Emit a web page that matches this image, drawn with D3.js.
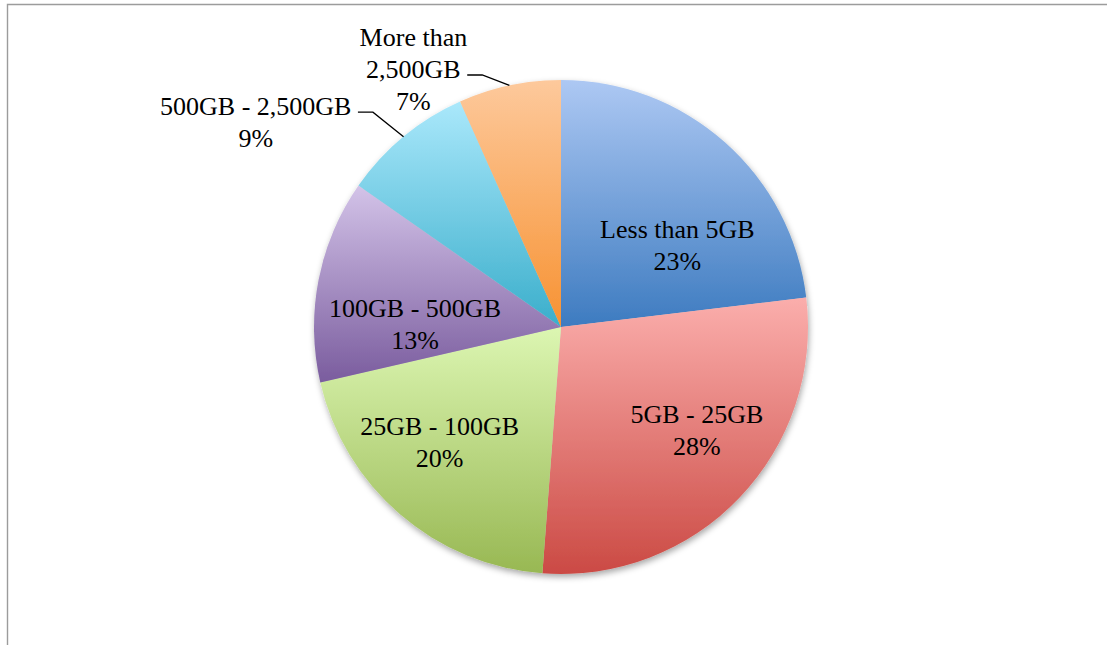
<!DOCTYPE html>
<html>
<head>
<meta charset="utf-8">
<script src="https://cdn.jsdelivr.net/npm/d3@7"></script>
<style>
html, body { margin: 0; padding: 0; background: #fff; }
svg { display: block; }
text { font-family: "Liberation Serif", "Times New Roman", serif; font-size: 26px; fill: #000; }
</style>
</head>
<body>
<svg width="1107" height="645"></svg>
<script>
(function(d3) {
    "use strict";

// data (clockwise from 12 o'clock)
var categories = ["Less than 5GB", "5GB - 25GB", "25GB - 100GB", "100GB - 500GB", "500GB - 2,500GB", "More than 2,500GB"];
var labelLines = [["Less than 5GB"], ["5GB - 25GB"], ["25GB - 100GB"], ["100GB - 500GB"], ["500GB - 2,500GB"], ["More than", "2,500GB"]];
var shares = [23.1, 28.1, 20.2, 13.3, 8.6, 6.7];
var topColors = ["#adc8f3", "#fbaeac", "#dcf6b2", "#d3c3e8", "#aae8fb", "#fdc99c"];
var bottomColors = ["#3d7bc0", "#cb4a44", "#98b853", "#7a5c9e", "#3aaecb", "#f79232"];

// label placement: inside = shift of angle (deg) and radius factor,
// outside = elbow of the leader line
var labelLayout = [
    {inside: true, shift: 13.6, rf: 0.574},
    {inside: true, shift: -6.3, rf: 0.693},
    {inside: true, shift: 5.6, rf: 0.68},
    {inside: true, shift: -10.2, rf: 0.591},
    {inside: false, shift: -1.6, rf: 1.156, row: 0},
    {inside: false, shift: -5.3, rf: 1.069, row: 1}
];

var svg = d3.select("svg"),
    cx = 561,
    cy = 327,
    radius = 247,
    lineH = 32,
    rad = Math.PI / 180,
    total = d3.sum(shares),
    fmt = function(v) { return d3.format(".0f")(v / total * 100) + "%"; },

    pie = d3.pie().sort(null).value(function(d) { return d; }),
    arc = d3.arc().innerRadius(0).outerRadius(radius),
    arcs = pie(shares),

    defs = svg.append("defs");

// frame
svg.append("path")
    .attr("d", "M7.5,645V4.5H1107")
    .attr("fill", "none")
    .attr("stroke", "#9c9c9c")
    .attr("stroke-width", 1.4);

var shadow = defs.append("filter")
    .attr("id", "shadow")
    .attr("x", "-10%").attr("y", "-10%")
    .attr("width", "120%").attr("height", "120%");
shadow.append("feDropShadow")
    .attr("dx", 1)
    .attr("dy", 3)
    .attr("stdDeviation", 3)
    .attr("flood-color", "#000")
    .attr("flood-opacity", 0.35);

var grads = defs.selectAll("linearGradient")
    .data(shares)
    .enter().append("linearGradient")
    .attr("id", function(d, i) { return "grad" + i; })
    .attr("x1", 0).attr("y1", 0)
    .attr("x2", 0).attr("y2", 1);
grads.append("stop").attr("offset", 0).attr("stop-color", function(d, i) { return topColors[i]; });
grads.append("stop").attr("offset", 1).attr("stop-color", function(d, i) { return bottomColors[i]; });

var g = svg.append("g")
    .attr("transform", "translate(" + cx + "," + cy + ")");

g.append("g")
    .attr("filter", "url(#shadow)")
    .selectAll("path")
    .data(arcs)
    .enter().append("path")
    .attr("d", arc)
    .attr("fill", function(d, i) { return "url(#grad" + i + ")"; });

arcs.forEach(function(d, i) {
    var lay = labelLayout[i],
        mid = (d.startAngle + d.endAngle) / 2,
        lines = labelLines[i].concat([fmt(d.value)]),
        t = g.append("text").attr("text-anchor", "middle");

    if (lay.inside) {
        var p = d3.pointRadial(mid + lay.shift * rad, lay.rf * radius),
            b1 = p[1] - (lines.length - 1) * lineH / 2 + 8;
        lines.forEach(function(s, k) {
            t.append("tspan").attr("x", p[0]).attr("y", b1 + k * lineH).text(s);
        });
        return;
    }

    var edge = d3.pointRadial(mid, radius),
        elbow = d3.pointRadial(mid + lay.shift * rad, lay.rf * radius),
        hEnd = [elbow[0] - 15, elbow[1]];

    g.append("path")
        .attr("d", d3.line()([edge, elbow, hEnd]))
        .attr("fill", "none")
        .attr("stroke", "#000")
        .attr("stroke-width", 1.3);

    var spans = lines.map(function(s) { return t.append("tspan").text(s); }),
        w = spans[lay.row].node().getComputedTextLength(),
        tx = hEnd[0] - 6.5 - w / 2,
        b0 = elbow[1] + 2.5 - lay.row * lineH;
    spans.forEach(function(sp, k) {
        sp.attr("x", tx).attr("y", b0 + k * lineH);
    });
});

}(d3));
</script>
</body>
</html>
